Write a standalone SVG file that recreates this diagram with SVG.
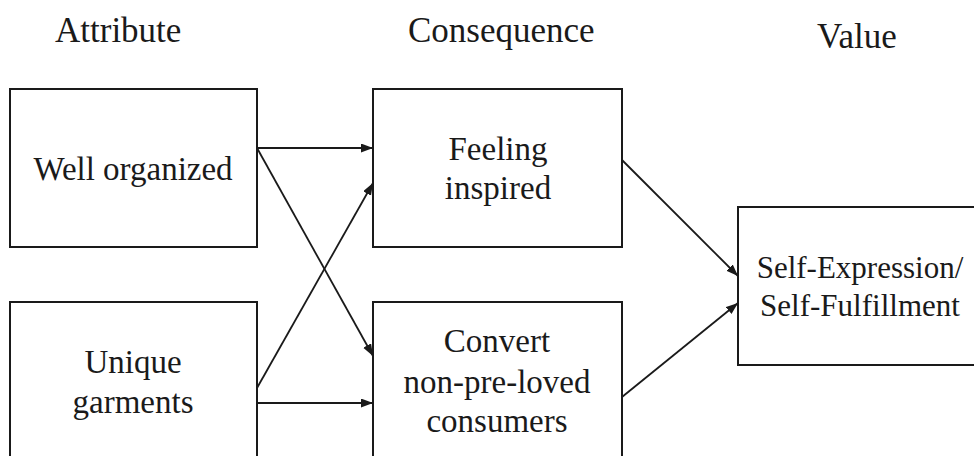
<svg xmlns="http://www.w3.org/2000/svg" width="974" height="456" viewBox="0 0 974 456">
<style>
text{font-family:'Liberation Serif','Times New Roman',Times,serif;fill:#1a1a1a}
.box{fill:#fff;stroke:#1a1a1a;stroke-width:2}
.t{font-size:33px;text-anchor:middle}
.h{font-size:35px}
.c{stroke:#1a1a1a;stroke-width:1.8;fill:none;marker-end:url(#ah)}
</style>
<defs>
<marker id="ah" markerWidth="13" markerHeight="10" refX="12" refY="4.5" orient="auto" markerUnits="userSpaceOnUse">
<path d="M0,0 L12,4.5 L0,9 Z" fill="#1a1a1a"/>
</marker>
</defs>
<rect width="974" height="456" fill="#fff"/>
<g id="headers">
<text class="h" x="55" y="42">Attribute</text>
<text class="h" x="408" y="42">Consequence</text>
<text class="h" x="817" y="48">Value</text>
</g>
<g id="n-well">
<rect class="box" x="10" y="89" width="247" height="158"/>
<text class="t" x="133" y="180">Well organized</text>
</g>
<g id="n-unique">
<rect class="box" x="10" y="302" width="247" height="170"/>
<text class="t" x="133" y="373">Unique</text>
<text class="t" x="133" y="413">garments</text>
</g>
<g id="n-feeling">
<rect class="box" x="373" y="89" width="249" height="158"/>
<text class="t" x="498" y="160">Feeling</text>
<text class="t" x="498" y="199">inspired</text>
</g>
<g id="n-convert">
<rect class="box" x="373" y="302" width="249" height="170"/>
<text class="t" x="497" y="352">Convert</text>
<text class="t" x="497" y="393">non-pre-loved</text>
<text class="t" x="497" y="432">consumers</text>
</g>
<g id="n-self">
<rect class="box" x="738" y="207" width="250" height="158"/>
<text class="t" x="860" y="278" style="font-size:31px">Self-Expression/</text>
<text class="t" x="860" y="316" style="font-size:31px">Self-Fulfillment</text>
</g>
<g id="connectors">
<line class="c" x1="257" y1="148" x2="373" y2="148"/>
<line class="c" x1="257" y1="148" x2="373" y2="356"/>
<line class="c" x1="257" y1="388" x2="373" y2="183"/>
<line class="c" x1="257" y1="403" x2="373" y2="403"/>
<line class="c" x1="622" y1="160" x2="738" y2="276"/>
<line class="c" x1="622" y1="397" x2="738" y2="303"/>
</g>
</svg>
